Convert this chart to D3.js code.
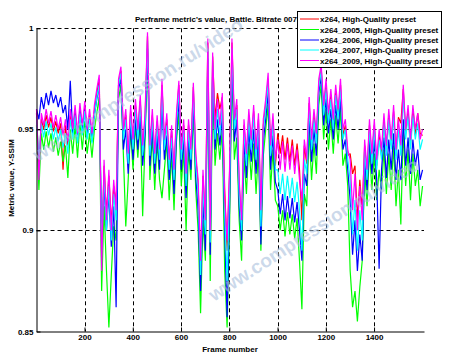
<!DOCTYPE html>
<html><head><meta charset="utf-8">
<script src="https://cdn.jsdelivr.net/npm/d3@7"></script>
<style>body{margin:0;background:#fff}svg{display:block}text{font-family:"Liberation Sans",Arial,sans-serif;font-weight:bold}</style>
</head><body><svg id="c" width="454" height="357"></svg>
<script>
const frames = d3.range(161).map(i => 1 + 10 * i);
const seriesNames = ["x264, High-Quality preset","x264_2005, High-Quality preset","x264_2006, High-Quality preset","x264_2007, High-Quality preset","x264_2009, High-Quality preset"];
const seriesColors = ["#ff0000","#00ff00","#0000ff","#00ffff","#ff00ff"];
const xTicks = [200,400,600,800,1000,1200,1400];
const xTickLabels = ["200","400","600","800","1000","1200","1400"];
const yTicks = [0.85,0.9,0.95,1];
const yTickLabels = ["0.85","0.9","0.95","1"];

const red = [0.958,0.930,0.955,0.950,0.957,0.951,0.956,0.949,0.954,0.948,
0.953,0.930,0.952,0.942,0.957,0.948,0.959,0.946,0.960,0.950,
0.961,0.948,0.957,0.946,0.959,0.968,0.975,0.885,0.932,0.908,
0.927,0.903,0.922,0.913,0.972,0.979,0.948,0.957,0.936,0.959,
0.943,0.962,0.948,0.964,0.940,0.955,0.996,0.940,0.957,0.936,
0.954,0.938,0.972,0.943,0.955,0.933,0.949,0.928,0.955,0.972,
0.938,0.952,0.926,0.952,0.938,0.971,0.936,0.922,0.882,0.927,
0.903,0.993,0.898,0.986,0.955,0.968,0.960,0.966,0.920,0.890,
0.927,0.993,0.952,0.962,0.922,0.902,0.952,0.935,0.957,0.942,
0.959,0.937,0.955,0.906,0.952,0.962,0.975,0.940,0.955,0.932,
0.948,0.938,0.947,0.935,0.946,0.934,0.945,0.932,0.943,0.930,
0.905,0.942,0.933,0.963,0.942,0.957,0.945,0.972,0.980,0.960,
0.972,0.955,0.967,0.952,0.969,0.957,0.972,0.947,0.952,0.937,
0.938,0.928,0.932,0.905,0.925,0.910,0.942,0.928,0.952,0.935,
0.952,0.932,0.947,0.937,0.955,0.939,0.957,0.942,0.959,0.937,
0.956,0.953,0.970,0.948,0.959,0.942,0.960,0.947,0.958,0.948,0.947];

const green = [0.952,0.920,0.948,0.940,0.949,0.941,0.948,0.939,0.946,0.937,
0.944,0.934,0.942,0.926,0.950,0.938,0.952,0.936,0.953,0.940,
0.954,0.938,0.948,0.936,0.950,0.958,0.966,0.870,0.912,0.880,
0.852,0.878,0.902,0.895,0.965,0.972,0.938,0.902,0.925,0.950,
0.930,0.952,0.936,0.954,0.907,0.945,0.985,0.925,0.947,0.920,
0.944,0.925,0.916,0.930,0.944,0.915,0.938,0.910,0.944,0.958,
0.922,0.940,0.900,0.940,0.925,0.960,0.920,0.900,0.859,0.905,
0.885,0.980,0.875,0.970,0.932,0.948,0.935,0.950,0.880,0.852,
0.900,0.978,0.935,0.946,0.905,0.885,0.937,0.918,0.943,0.925,
0.943,0.918,0.940,0.890,0.937,0.950,0.962,0.920,0.940,0.915,
0.912,0.900,0.910,0.897,0.909,0.898,0.908,0.896,0.906,0.885,
0.861,0.918,0.912,0.950,0.925,0.943,0.928,0.962,0.972,0.945,
0.960,0.940,0.955,0.938,0.957,0.943,0.960,0.932,0.938,0.922,
0.880,0.862,0.870,0.855,0.872,0.885,0.930,0.912,0.940,0.920,
0.938,0.915,0.930,0.920,0.940,0.918,0.938,0.920,0.942,0.912,
0.930,0.903,0.950,0.922,0.940,0.915,0.938,0.922,0.930,0.912,0.922];

const blue = [0.960,0.955,0.966,0.960,0.968,0.962,0.969,0.963,0.967,0.961,
0.966,0.958,0.962,0.950,0.974,0.948,0.958,0.945,0.960,0.948,
0.960,0.946,0.955,0.944,0.957,0.965,0.972,0.895,0.922,0.900,
0.918,0.892,0.912,0.862,0.970,0.975,0.940,0.950,0.928,0.952,
0.935,0.955,0.940,0.957,0.932,0.948,0.990,0.932,0.950,0.928,
0.947,0.930,0.963,0.935,0.947,0.925,0.941,0.918,0.947,0.965,
0.930,0.945,0.916,0.945,0.930,0.965,0.927,0.910,0.870,0.915,
0.890,0.985,0.888,0.978,0.940,0.955,0.942,0.957,0.900,0.857,
0.910,0.985,0.944,0.955,0.912,0.895,0.945,0.926,0.950,0.934,
0.950,0.928,0.948,0.893,0.944,0.955,0.968,0.930,0.947,0.924,
0.920,0.908,0.918,0.905,0.917,0.906,0.916,0.904,0.914,0.900,
0.885,0.928,0.922,0.956,0.934,0.950,0.937,0.968,0.976,0.952,
0.965,0.948,0.960,0.945,0.962,0.950,0.965,0.940,0.945,0.930,
0.915,0.888,0.905,0.880,0.898,0.885,0.935,0.920,0.945,0.928,
0.945,0.925,0.881,0.930,0.946,0.926,0.945,0.930,0.948,0.925,
0.940,0.925,0.955,0.932,0.946,0.928,0.945,0.932,0.940,0.925,0.930];

const cyan = [0.956,0.935,0.953,0.946,0.954,0.947,0.953,0.945,0.951,0.944,
0.950,0.941,0.948,0.938,0.955,0.945,0.957,0.943,0.958,0.947,
0.959,0.945,0.955,0.943,0.957,0.966,0.972,0.890,0.928,0.900,
0.922,0.895,0.918,0.905,0.972,0.978,0.945,0.955,0.933,0.957,
0.940,0.960,0.945,0.962,0.937,0.953,0.994,0.937,0.955,0.933,
0.952,0.935,0.968,0.940,0.952,0.930,0.946,0.925,0.952,0.970,
0.935,0.950,0.922,0.950,0.935,0.969,0.932,0.918,0.878,0.922,
0.898,0.990,0.894,0.983,0.945,0.960,0.947,0.962,0.908,0.875,
0.920,0.990,0.950,0.960,0.918,0.900,0.950,0.932,0.955,0.940,
0.957,0.935,0.953,0.902,0.950,0.960,0.973,0.937,0.953,0.930,
0.930,0.918,0.928,0.915,0.927,0.916,0.926,0.914,0.924,0.910,
0.890,0.935,0.928,0.961,0.940,0.955,0.943,0.971,0.979,0.957,
0.970,0.953,0.965,0.950,0.967,0.955,0.970,0.945,0.950,0.935,
0.925,0.898,0.915,0.890,0.910,0.895,0.940,0.925,0.950,0.933,
0.950,0.930,0.945,0.935,0.953,0.937,0.955,0.940,0.957,0.935,
0.950,0.937,0.967,0.945,0.957,0.940,0.957,0.945,0.953,0.940,0.945];

const magenta = [0.960,0.925,0.958,0.952,0.960,0.953,0.959,0.951,0.957,0.950,
0.956,0.947,0.955,0.944,0.960,0.950,0.962,0.948,0.963,0.952,
0.964,0.950,0.960,0.948,0.962,0.970,0.977,0.880,0.935,0.905,
0.930,0.900,0.925,0.910,0.975,0.981,0.950,0.960,0.938,0.962,
0.945,0.965,0.950,0.967,0.942,0.958,0.998,0.942,0.960,0.938,
0.957,0.940,0.975,0.945,0.958,0.935,0.952,0.930,0.958,0.974,
0.940,0.955,0.928,0.955,0.940,0.973,0.938,0.925,0.885,0.930,
0.905,0.995,0.900,0.988,0.950,0.965,0.952,0.968,0.915,0.895,
0.930,0.995,0.955,0.965,0.925,0.905,0.955,0.938,0.960,0.945,
0.962,0.940,0.958,0.910,0.955,0.965,0.978,0.942,0.958,0.935,
0.945,0.930,0.944,0.929,0.943,0.930,0.942,0.928,0.940,0.925,
0.915,0.945,0.935,0.966,0.945,0.960,0.948,0.975,0.982,0.962,
0.975,0.958,0.970,0.955,0.972,0.960,0.975,0.950,0.955,0.940,
0.935,0.910,0.928,0.900,0.922,0.905,0.945,0.930,0.955,0.938,
0.955,0.935,0.950,0.940,0.958,0.942,0.960,0.945,0.962,0.940,
0.955,0.942,0.972,0.950,0.962,0.945,0.962,0.950,0.958,0.945,0.950];

const seriesValues = [red, green, blue, cyan, magenta];

const svg = d3.select("#c");
const x = d3.scaleLinear().domain([1, 1607]).range([36.5, 424]);
const y = d3.scaleLinear().domain([0.85, 1]).range([331.5, 28.3]);

// grid
const g = svg.append("g");
g.selectAll(".gx").data(xTicks).join("line")
  .attr("x1", d => Math.round(x(d)) + 0.5).attr("x2", d => Math.round(x(d)) + 0.5)
  .attr("y1", y(1)).attr("y2", y(0.85))
  .attr("stroke", "#000").attr("stroke-width", 1).attr("stroke-dasharray", "4,3");
g.selectAll(".gy").data(yTicks.filter(d => d > 0.85)).join("line")
  .attr("x1", x(1)).attr("x2", 424)
  .attr("y1", d => Math.round(y(d)) + 0.5).attr("y2", d => Math.round(y(d)) + 0.5)
  .attr("stroke", "#000").attr("stroke-width", 1).attr("stroke-dasharray", "4,3");

// lines
const line = d3.line().x((d, i) => x(frames[i])).y(d => y(d));
seriesValues.forEach((vals, k) => {
  svg.append("path").datum(vals).attr("d", line)
    .attr("fill", "none").attr("stroke", seriesColors[k]).attr("stroke-width", 1.2)
    .attr("stroke-linejoin", "miter").attr("stroke-miterlimit", 2);
});

// axes
const xAxis = d3.axisBottom(x).tickValues(xTicks).tickFormat((d, i) => xTickLabels[i]).tickSize(-4).tickSizeOuter(0).tickPadding(3);
const ax = svg.append("g").attr("transform", "translate(0,331.5)").call(xAxis);
ax.select(".domain").attr("stroke", "#000");
ax.selectAll("text").attr("font-size", 8).attr("font-weight", "bold").attr("fill", "#000").attr("font-family", "Liberation Sans, Arial");
const yAxis = d3.axisLeft(y).tickValues(yTicks).tickFormat((d, i) => yTickLabels[i]).tickSize(-4).tickSizeOuter(0).tickPadding(3);
const ay = svg.append("g").attr("transform", "translate(36.5,0)").call(yAxis);
ay.select(".domain").attr("stroke", "#000");
ay.selectAll("text").attr("font-size", 8).attr("font-weight", "bold").attr("fill", "#000").attr("font-family", "Liberation Sans, Arial");

// labels
svg.append("text").attr("x", 230).attr("y", 352).attr("text-anchor", "middle").attr("font-size", 8).text("Frame number");
svg.append("text").attr("transform", "translate(14,178) rotate(-90)").attr("text-anchor", "middle").attr("font-size", 8).text("Metric value, Y-SSIM");
svg.append("text").attr("x", 135).attr("y", 22).attr("font-size", 8).text("Perframe metric's value, Battle. Bitrate 0070 kbps");

// watermark
const wm = [[38, 162], [214, 302]];
wm.forEach(p => {
  svg.append("text").attr("transform", `translate(${p[0]},${p[1]}) rotate(-33)`)
    .attr("font-size", 19).attr("font-weight", "normal").attr("fill", "#aabfdd").attr("fill-opacity", 0.6)
    .text("www.compression.ru/video");
});

// legend
const lg = svg.append("g");
lg.append("rect").attr("x", 297.5).attr("y", 11.5).attr("width", 144).attr("height", 56)
  .attr("fill", "#fff").attr("stroke", "#000").attr("stroke-width", 1);
const ly = [19, 29.5, 40, 50, 60.5];
seriesNames.forEach((n, k) => {
  lg.append("line").attr("x1", 300).attr("x2", 319).attr("y1", ly[k]).attr("y2", ly[k])
    .attr("stroke", seriesColors[k]).attr("stroke-width", 1);
  lg.append("text").attr("x", 320).attr("y", ly[k] + 3).attr("font-size", 8).text(n);
});
</script></body></html>
